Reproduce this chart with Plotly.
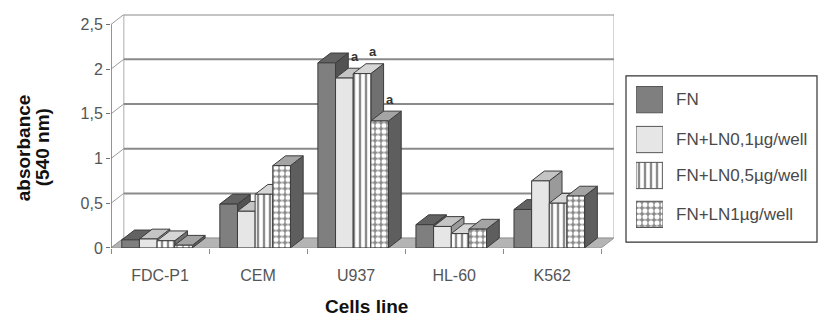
import plotly.graph_objects as go

# ---------------- data ----------------
categories = ["FDC-P1", "CEM", "U937", "HL-60", "K562"]
series_names = ["FN", "FN+LN0,1µg/well", "FN+LN0,5µg/well", "FN+LN1µg/well"]
fn_vals = [0.09, 0.49, 2.07, 0.26, 0.43]
ln01_vals = [0.10, 0.41, 1.90, 0.24, 0.75]
ln05_vals = [0.08, 0.60, 1.95, 0.16, 0.50]
ln1_vals = [0.03, 0.92, 1.42, 0.21, 0.58]
# significance marks ("a") per series and category
fn_marks = ["", "", "", "", ""]
ln01_marks = ["", "", "a", "", ""]
ln05_marks = ["", "", "a", "", ""]
ln1_marks = ["", "", "a", "", ""]
y_tick_vals = [0, 0.5, 1, 1.5, 2, 2.5]
y_tick_text = ["0", "0,5", "1", "1,5", "2", "2,5"]

values = [fn_vals, ln01_vals, ln05_vals, ln1_vals]
marks = [fn_marks, ln01_marks, ln05_marks, ln1_marks]

# ---------------- styles ----------------
W, H = 821, 324
FONT = "Liberation Sans, Arial, sans-serif"
DX, DY = 0.13, 0.11          # pseudo 3-D depth (x in category units, y in data units)
BAR_W = 0.18
START = -0.39
front_colors = ["#7f7f7f", "#e6e6e6", "#ffffff", "#8e8e8e"]
top_colors = ["#626262", "#c4c4c4", "#d6d6d6", "#a4a4a4"]
side_colors = ["#525252", "#9a9a9a", "#707070", "#5e5e5e"]
patterns = [
    dict(shape=""),
    dict(shape=""),
    dict(shape="|", fgcolor="#8c8c8c", bgcolor="#ffffff", size=6, solidity=0.4, fillmode="replace"),
    dict(shape=".", fgcolor="#ffffff", bgcolor="#8a8a8a", size=6, solidity=0.55, fillmode="replace"),
]
EDGE = "#3c3c3c"

x_idx = list(range(len(categories)))
x_lo, x_hi = -0.5, len(categories) - 0.5

fig = go.Figure()

for k, (name, vals) in enumerate(zip(series_names, values)):
    fig.add_trace(go.Bar(
        x=x_idx, y=vals, name=name, offset=START + k * BAR_W, width=BAR_W,
        marker=dict(color=front_colors[k], line=dict(color=EDGE, width=1),
                    pattern=patterns[k]),
        showlegend=False, hoverinfo="skip",
    ))

shapes = []
# floor
shapes.append(dict(type="path", xref="x", yref="y", layer="below",
                   path=f"M {x_lo},0 L {x_hi},0 L {x_hi+DX},{DY} L {x_lo+DX},{DY} Z",
                   fillcolor="#b4b4b4", line=dict(color="#9a9a9a", width=1)))
# back wall sides
for xv in (x_lo + DX, x_hi + DX):
    shapes.append(dict(type="line", xref="x", yref="y", layer="below",
                       x0=xv, x1=xv, y0=DY, y1=y_tick_vals[-1] + DY,
                       line=dict(color="#c8c8c8", width=1.5)))
# gridlines on back wall + diagonal connectors
for t in y_tick_vals:
    shapes.append(dict(type="line", xref="x", yref="y", layer="below",
                       x0=x_lo + DX, x1=x_hi + DX, y0=t + DY, y1=t + DY,
                       line=dict(color="#8a8a8a" if t > 0 else "#a0a0a0", width=2 if t > 0 else 1)))
    shapes.append(dict(type="line", xref="x", yref="y", layer="below",
                       x0=x_lo, x1=x_lo + DX, y0=t, y1=t + DY,
                       line=dict(color="#9a9a9a", width=1)))
# front left axis
shapes.append(dict(type="line", xref="x", yref="y", layer="below",
                   x0=x_lo, x1=x_lo, y0=0, y1=y_tick_vals[-1],
                   line=dict(color="#707070", width=1.5)))

# 3-D faces of bars
for i in x_idx:
    for k in range(len(values)):
        v = values[k][i]
        xl = i + START + k * BAR_W
        xr = xl + BAR_W
        shapes.append(dict(type="path", xref="x", yref="y", layer="below",
                           path=f"M {xr},0 L {xr},{v} L {xr+DX},{v+DY} L {xr+DX},{DY} Z",
                           fillcolor=side_colors[k], line=dict(color=EDGE, width=1)))
        shapes.append(dict(type="path", xref="x", yref="y", layer="below",
                           path=f"M {xl},{v} L {xr},{v} L {xr+DX},{v+DY} L {xl+DX},{v+DY} Z",
                           fillcolor=top_colors[k], line=dict(color=EDGE, width=1)))

annotations = []
for k in range(len(values)):
    for i in x_idx:
        if marks[k][i]:
            xr = i + START + (k + 1) * BAR_W
            annotations.append(dict(x=xr + 0.02, y=values[k][i] + DY, xref="x", yref="y",
                                    text="<b>" + marks[k][i] + "</b>", showarrow=False, yshift=12,
                                    xanchor="center", yanchor="middle",
                                    font=dict(family=FONT, size=13, color="#333333")))

# axis titles
annotations.append(dict(x=23.5 / W, y=1 - 152 / H, xref="paper", yref="paper",
                        xanchor="center", yanchor="middle",
                        text="<b>absorbance</b>", textangle=-90, showarrow=False,
                        font=dict(family=FONT, size=19, color="#111111")))
annotations.append(dict(x=42.5 / W, y=1 - 152 / H, xref="paper", yref="paper",
                        xanchor="center", yanchor="middle",
                        text="<b>(540 nm)</b>", textangle=-90, showarrow=False,
                        font=dict(family=FONT, size=19, color="#111111")))
annotations.append(dict(x=366 / W, y=1 - 315 / H, xref="paper", yref="paper",
                        xanchor="center", yanchor="middle",
                        text="<b>Cells line</b>", showarrow=False,
                        font=dict(family=FONT, size=19, color="#111111")))

# ---------------- manual legend ----------------
LEG_X0, LEG_X1, LEG_Y0, LEG_Y1 = 626, 817, 78, 249
SW_X0, SW_X1 = 636, 663
row_tops = [89, 130, 167, 207]
row_h = 27
shapes.append(dict(type="rect", xref="paper", yref="paper",
                   x0=LEG_X0 / W, x1=LEG_X1 / W, y0=1 - LEG_Y1 / H, y1=1 - LEG_Y0 / H,
                   line=dict(color="#333333", width=1.2), fillcolor="rgba(0,0,0,0)"))
for k, name in enumerate(series_names):
    fig.add_trace(go.Bar(
        x=[0.5], y=[row_h], base=[row_tops[k]], width=[1], xaxis="x2", yaxis="y2",
        marker=dict(color=front_colors[k], line=dict(color="#555555", width=1),
                    pattern=patterns[k]),
        showlegend=False, hoverinfo="skip",
    ))
    annotations.append(dict(x=674 / W, y=1 - (row_tops[k] + row_h / 2) / H,
                            xref="paper", yref="paper", xanchor="left", yanchor="middle",
                            text=name, showarrow=False,
                            font=dict(family=FONT, size=17, color="#4a4a4a")))

fig.update_layout(
    width=W, height=H, margin=dict(l=0, r=0, t=0, b=0),
    paper_bgcolor="white", plot_bgcolor="white",
    barmode="overlay", showlegend=False,
    xaxis=dict(domain=[111 / W, 614 / W], range=[x_lo, x_hi + DX],
               tickvals=x_idx, ticktext=categories, ticks="", showgrid=False,
               zeroline=False, showline=False, ticklabelstandoff=16,
               tickfont=dict(family=FONT, size=16, color="#555555"),
               minor=dict(tick0=0.5, dtick=1, ticks="outside", ticklen=5,
                          tickcolor="#8a8a8a", showgrid=False)),
    yaxis=dict(domain=[1 - 255 / H, 1 - 15 / H], range=[0, y_tick_vals[-1] + DY],
               tickvals=y_tick_vals, ticktext=y_tick_text, ticks="outside",
               ticklen=4, tickcolor="#707070", showgrid=False, zeroline=False,
               showline=False, tickfont=dict(family=FONT, size=16, color="#555555")),
    xaxis2=dict(domain=[SW_X0 / W, SW_X1 / W], range=[0, 1], visible=False, fixedrange=True),
    yaxis2=dict(domain=[1 - LEG_Y1 / H, 1 - LEG_Y0 / H], range=[LEG_Y1, LEG_Y0],
                visible=False, fixedrange=True, anchor="x2"),
    shapes=shapes, annotations=annotations,
)

fig.write_html("out.html", config={"displayModeBar": False},
               post_script="document.body.style.margin='0px';document.body.style.overflow='hidden';")
